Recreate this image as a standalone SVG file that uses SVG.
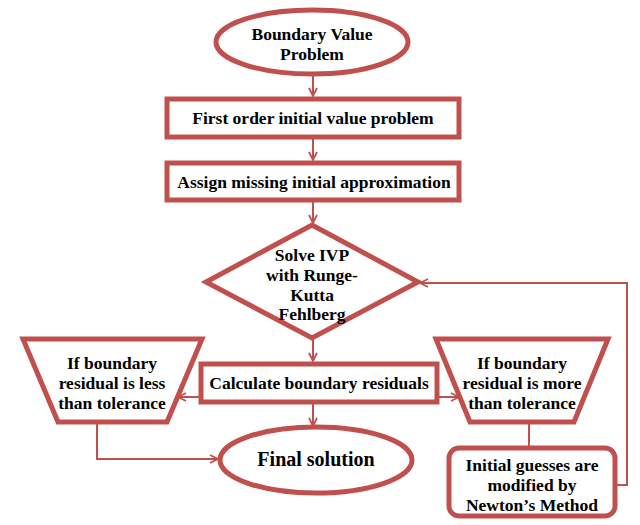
<svg xmlns="http://www.w3.org/2000/svg" width="640" height="525" viewBox="0 0 640 525">
<style>
.n{fill:#fff;stroke:#c0504d;stroke-width:5}
.t{font-family:'Liberation Serif','DejaVu Serif',serif;font-weight:700;font-size:17.5px;fill:#000;text-anchor:middle}
.c{fill:none;stroke:#c0504d;stroke-width:2}
</style>
<defs>
<marker id="a" viewBox="0 0 10 10" refX="9" refY="5" markerWidth="10" markerHeight="10" markerUnits="userSpaceOnUse" orient="auto">
<path d="M1,1 L9,5 L1,9" fill="none" stroke="#c0504d" stroke-width="1.8"/>
</marker>
</defs>
<rect width="640" height="525" fill="#fff"/>
<g id="connectors">
<line class="c" x1="313" y1="75" x2="313" y2="96" marker-end="url(#a)"/>
<line class="c" x1="313" y1="139" x2="313" y2="160" marker-end="url(#a)"/>
<line class="c" x1="313" y1="201" x2="313" y2="223" marker-end="url(#a)"/>
<line class="c" x1="313" y1="339" x2="313" y2="361" marker-end="url(#a)"/>
<line class="c" x1="313" y1="404" x2="313" y2="426" marker-end="url(#a)"/>
<line class="c" x1="200" y1="397" x2="178" y2="397" marker-end="url(#a)"/>
<line class="c" x1="438" y1="397" x2="459" y2="397" marker-end="url(#a)"/>
<polyline class="c" points="97,423 97,459 218,459" marker-end="url(#a)"/>
<line class="c" x1="529" y1="423" x2="529" y2="447"/>
<polyline class="c" points="616,485 627,485 627,283 420,283" marker-end="url(#a)"/>
</g>
<g id="bvp">
<ellipse class="n" cx="312" cy="42" rx="96" ry="32"/>
<text class="t" x="312" y="40">Boundary Value</text>
<text class="t" x="312" y="60">Problem</text>
</g>
<g id="first-order">
<rect class="n" x="167" y="99" width="292" height="38"/>
<text class="t" x="313" y="124">First order initial value problem</text>
</g>
<g id="assign">
<rect class="n" x="167" y="163" width="292" height="37"/>
<text class="t" x="314" y="188">Assign missing initial approximation</text>
</g>
<g id="solve">
<polygon class="n" points="312,225 418,282 312,338 206,282"/>
<text class="t" x="312" y="261">Solve IVP</text>
<text class="t" x="312" y="281">with Runge-</text>
<text class="t" x="312" y="301">Kutta</text>
<text class="t" x="312" y="320">Fehlberg</text>
</g>
<g id="calculate">
<rect class="n" x="201" y="364" width="236" height="38"/>
<text class="t" x="319" y="389">Calculate boundary residuals</text>
</g>
<g id="less">
<polygon class="n" points="23,339 202,339 167,422 58,422"/>
<text class="t" x="112" y="369">If boundary</text>
<text class="t" x="112" y="389">residual is less</text>
<text class="t" x="112" y="409">than tolerance</text>
</g>
<g id="more">
<polygon class="n" points="436,339 608,339 574,422 470,422"/>
<text class="t" x="522" y="369">If boundary</text>
<text class="t" x="522" y="389">residual is more</text>
<text class="t" x="522" y="409">than tolerance</text>
</g>
<g id="final">
<ellipse class="n" cx="316" cy="460" rx="96" ry="33"/>
<text class="t" x="316" y="466" style="font-size:20px">Final solution</text>
</g>
<g id="newton">
<rect class="n" x="449" y="448" width="166" height="68" rx="10"/>
<text class="t" x="532" y="471">Initial guesses are</text>
<text class="t" x="532" y="491">modified by</text>
<text class="t" x="532" y="511">Newton’s Method</text>
</g>
</svg>
